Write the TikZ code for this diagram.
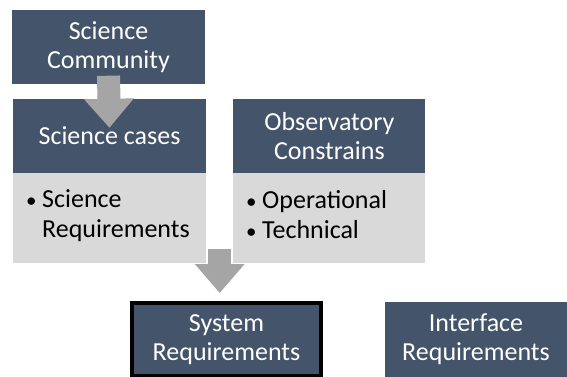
\documentclass[tikz,border=0pt]{standalone}
\usepackage{fontspec}
\setmainfont{Carlito}
\usepackage{tikz}
\usetikzlibrary{arrows.meta,positioning,calc}

\definecolor{slate}{HTML}{44546A}
\definecolor{panel}{HTML}{D9D9D9}
\definecolor{arrowgray}{HTML}{A5A5A5}

\newcommand{\smallbullet}{{\fontsize{21}{21}\selectfont\textbullet}}

\tikzset{
  head/.style={fill=slate, text=white, minimum width=193pt, minimum height=74pt,
    align=center, inner sep=0pt, font=\fontsize{26}{29}\selectfont},
  body/.style={fill=panel, minimum width=193pt, minimum height=90pt, inner sep=0pt},
  bullets/.style={anchor=base west, inner sep=0pt, font=\fontsize{26}{30}\selectfont},
  bigarrow/.style={arrowgray, line width=23pt, -{Triangle[width=48pt,length=29pt]}}
}

\begin{document}
\begin{tikzpicture}[x=1pt,y=-1pt]
	  \useasboundingbox (0,0) rectangle (567,377);
	  % Draw the header boxes and their panels
	  \node[head] (comm) at (108.5,47.5) {Science\\Community};
	  \node[head] (cases) at (109.5,136) {Science cases};
	  \node[body, below=0pt of cases] (scibody) {};
	  \node[head, minimum width=192pt, right=27pt of cases] (obs) {Observatory\\Constrains};
	  \node[body, minimum width=192pt, below=0pt of obs] (obsbody) {};
	  % Bullet lists
	  \node[bullets] (scilist) at (26,207)
	      {\begin{tabular}[t]{@{}p{16pt}@{}l@{}}\smallbullet & Science\\ & Requirements\end{tabular}};
	  \node[bullets] (obslist) at (246,208)
	      {\begin{tabular}[t]{@{}p{16pt}@{}l@{}}\smallbullet & Operational\\ \smallbullet & Technical\end{tabular}};
	  % Draw the requirement boxes
	  \node[head, draw=black, line width=4pt, minimum width=189pt, minimum height=73pt] (sys)
	      at (226.5,339.5) {System\\Requirements};
	  \node[head, minimum width=182pt, minimum height=75pt] (iface) at (476,339.5) {Interface\\Requirements};
	  % Draw the block arrows
	  \coordinate (gap) at ($(scibody.south east)!0.5!(obsbody.south west)$);
	  \draw[bigarrow] ([yshift=9pt]comm.south) -- ([yshift=-29pt]cases.north);
	  \draw[bigarrow] ([yshift=15pt]gap) -- ([yshift=8pt]gap |- sys.north);
      \end{tikzpicture}
\end{document}
